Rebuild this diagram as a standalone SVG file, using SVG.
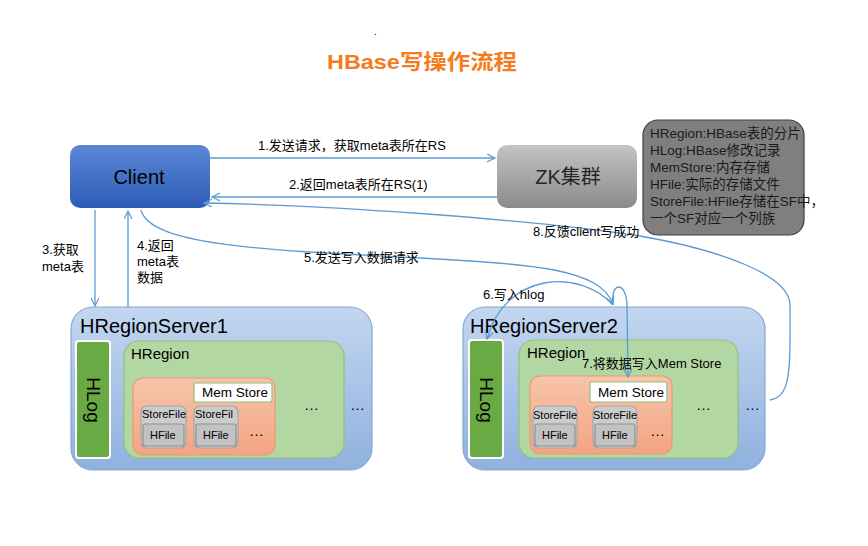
<svg xmlns="http://www.w3.org/2000/svg" width="868" height="546" viewBox="0 0 868 546">
<defs>
<linearGradient id="gClient" x1="0" y1="0" x2="0" y2="1"><stop offset="0" stop-color="#5b87d6"/><stop offset="1" stop-color="#2d5cb6"/></linearGradient>
<linearGradient id="gZk" x1="0" y1="0" x2="0" y2="1"><stop offset="0" stop-color="#c4c4c4"/><stop offset="1" stop-color="#8a8a8a"/></linearGradient>
<linearGradient id="gServer" x1="0" y1="0" x2="0" y2="1"><stop offset="0" stop-color="#c3d6ef"/><stop offset="1" stop-color="#8fb1df"/></linearGradient>
<linearGradient id="gStore" x1="0" y1="0" x2="0" y2="1"><stop offset="0" stop-color="#f7c5ab"/><stop offset="1" stop-color="#f3a482"/></linearGradient>
<marker id="arr" markerWidth="10" markerHeight="10" refX="8" refY="4" orient="auto" markerUnits="userSpaceOnUse"><path d="M0,0 L8,4 L0,8" fill="none" stroke="#5b9bd5" stroke-width="1.2"/></marker>
</defs>
<style>
text{font-family:"Liberation Sans","Noto Sans CJK SC",sans-serif;fill:#000}
.lbl{font-size:13px}
.conn{fill:none;stroke:#5b9bd5;stroke-width:1.3;marker-end:url(#arr)}
.server{fill:url(#gServer);stroke:#86a8d8;stroke-width:1.2}
.hlog{fill:#6aaa45;stroke:#fff;stroke-width:2}
.hregion{fill:#b3d7a2;stroke:#8fc27a;stroke-width:1.2}
.store{fill:url(#gStore);stroke:#eb9a6c;stroke-width:1.2}
.mem{fill:#fff;stroke:#8fc27a;stroke-width:1.2}
.sf{fill:#cccccc;stroke:#a6a6a6;stroke-width:1.2}
.hf{fill:#c2c2c2;stroke:#8f8f8f;stroke-width:1.2}
.sft{font-size:11px}
.dots{font-size:15px}
.note{font-size:13.5px;fill:#1a1a1a}
</style>
<rect width="868" height="546" fill="#fff"/>
<text x="374" y="35" font-size="10">.</text>
<text x="327" y="69" font-size="21" font-weight="bold" style="fill:#f47b20" textLength="190" lengthAdjust="spacingAndGlyphs">HBase写操作流程</text>

<g id="client">
<rect x="70" y="145" width="140" height="63" rx="10" fill="url(#gClient)"/>
<text x="139" y="184" font-size="20" text-anchor="middle">Client</text>
</g>
<g id="zk">
<rect x="497" y="145" width="140" height="63" rx="10" fill="url(#gZk)"/>
<text x="568" y="184" font-size="20" text-anchor="middle" style="fill:#262626">ZK集群</text>
</g>
<g id="note">
<rect x="643" y="120" width="161" height="115" rx="15" fill="#7f7f7f" stroke="#404040" stroke-width="1.2"/>
<text class="note" x="650" y="138">HRegion:HBase表的分片</text>
<text class="note" x="650" y="155">HLog:HBase修改记录</text>
<text class="note" x="650" y="172">MemStore:内存存储</text>
<text class="note" x="650" y="189">HFile:实际的存储文件</text>
<text class="note" x="650" y="206">StoreFile:HFile存储在SF中，</text>
<text class="note" x="650" y="223">一个SF对应一个列族</text>
</g>

<g id="server1">
<rect class="server" x="71" y="307" width="301" height="163" rx="22"/>
<text x="80" y="333" font-size="20">HRegionServer1</text>
<rect class="hlog" x="76" y="341" width="34" height="117" rx="3"/>
<text x="0" y="0" font-size="19" text-anchor="middle" transform="translate(87,400) rotate(90)">HLog</text>
<rect class="hregion" x="124" y="341" width="220" height="117" rx="15"/>
<text x="131" y="359" font-size="15">HRegion</text>
<rect class="store" x="133" y="378" width="142" height="77" rx="10"/>
<rect class="mem" x="194" y="383" width="78" height="19" rx="2"/>
<text x="202" y="397" font-size="13.5">Mem Store</text>
<rect class="sf" x="141" y="406" width="45" height="42" rx="6"/>
<text class="sft" x="142" y="418">StoreFile</text>
<rect class="hf" x="143" y="424" width="41" height="22" rx="2"/>
<text class="sft" x="150" y="439">HFile</text>
<rect class="sf" x="194" y="406" width="44" height="42" rx="6"/>
<text class="sft" x="195" y="418">StoreFil</text>
<rect class="hf" x="196" y="424" width="40" height="22" rx="2"/>
<text class="sft" x="203" y="439">HFile</text>
<text class="dots" x="249" y="436">…</text>
<text class="dots" x="304" y="410">…</text>
<text class="dots" x="350" y="410">…</text>
</g>

<g id="server2">
<rect class="server" x="463" y="307" width="302" height="163" rx="22"/>
<text x="470" y="333" font-size="20">HRegionServer2</text>
<rect class="hlog" x="469" y="340" width="34" height="118" rx="3"/>
<text x="0" y="0" font-size="19" text-anchor="middle" transform="translate(480,400) rotate(90)">HLog</text>
<rect class="hregion" x="519" y="340" width="219" height="118" rx="15"/>
<text x="527" y="358" font-size="15">HRegion</text>
<rect class="store" x="530" y="376" width="142" height="78" rx="10"/>
<rect class="mem" x="590" y="382" width="77" height="20" rx="2"/>
<text x="598" y="397" font-size="13.5">Mem Store</text>
<rect class="sf" x="533" y="406" width="44" height="42" rx="6"/>
<text class="sft" x="533" y="419">StoreFile</text>
<rect class="hf" x="535" y="424" width="40" height="22" rx="2"/>
<text class="sft" x="542" y="439">HFile</text>
<rect class="sf" x="593" y="406" width="44" height="42" rx="6"/>
<text class="sft" x="593" y="419">StoreFile</text>
<rect class="hf" x="595" y="424" width="40" height="22" rx="2"/>
<text class="sft" x="602" y="439">HFile</text>
<text class="dots" x="650" y="436">…</text>
<text class="dots" x="696" y="410">…</text>
<text class="dots" x="745" y="410">…</text>
</g>

<g id="connectors">
<path class="conn" d="M210,158 L495,158"/>
<path class="conn" d="M497,197 L212,197"/>
<path class="conn" d="M95,210 L95,306"/>
<path class="conn" d="M128,307 L128,211"/>
<path class="conn" d="M141,210 C150,245 260,250 420,258 C540,264 600,270 613,304"/>
<path class="conn" d="M613,305 C580,268 505,272 487,339"/>
<path class="conn" d="M613,305 C610,282 626,280 627,305 L628,377"/>
<path class="conn" d="M770,400 C785,398 790,385 790,340 L790,305 C790,275 720,250 640,236 C520,218 320,205 204,203"/>
</g>

<g id="labels">
<text class="lbl" x="258" y="150">1.发送请求，获取meta表所在RS</text>
<text class="lbl" x="289" y="189">2.返回meta表所在RS(1)</text>
<text class="lbl" x="42" y="254">3.获取</text>
<text class="lbl" x="42" y="271">meta表</text>
<text class="lbl" x="137" y="250">4.返回</text>
<text class="lbl" x="137" y="266">meta表</text>
<text class="lbl" x="137" y="282">数据</text>
<text class="lbl" x="304" y="262">5.发送写入数据请求</text>
<text class="lbl" x="483" y="299">6.写入hlog</text>
<text class="lbl" x="582" y="368">7.将数据写入Mem Store</text>
<text class="lbl" x="533" y="236">8.反馈client写成功</text>
</g>
</svg>
